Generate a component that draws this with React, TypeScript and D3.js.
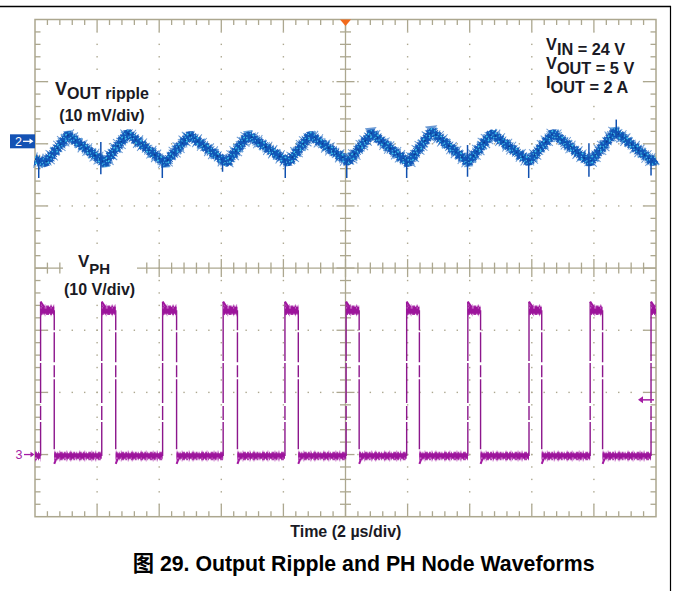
import React from "react";
import * as d3 from "d3";

const WIDTH = 673;
const HEIGHT = 591;

// Scope screen: 10 horizontal divisions of 2 µs, 8 vertical divisions
const timePerDiv = 2; // µs/div
const hDivs = 10;
const vDivs = 8;

// Channel 2 – output ripple (10 mV/div)
const ch2PerDiv = 10; // mV/div
const ch2Position = 2.04; // divisions above centre
const rippleTimeUs = [0, 0.35, 1.07, 2.25, 2.98, 4.19, 4.98, 6.17, 6.87, 8.16, 8.86, 10.09, 10.84, 12.02, 12.78, 13.95, 14.71, 15.91, 16.69, 17.87, 18.68, 19.91, 20];
const rippleMv = [-3.0, -3.4, 1.0, -3.5, 1.3, -3.5, 1.0, -3.5, 1.0, -3.4, 1.0, -3.3, 1.3, -3.5, 1.6, -3.4, 1.3, -3.3, 1.3, -3.4, 1.6, -3.3, -2.9];
// switching spikes riding on the ripple
const spikeTimeUs = [0.12, 2.12, 4.1, 6.04, 8.06, 10.04, 11.97, 13.93, 15.9, 17.84, 19.84, 18.72];
const spikeLowMv = [-5.9, -5.3, -5.9, -4.9, -5.9, -5.9, -5.9, -5.7, -5.9, -5.7, -5.5, 0.5];
const spikeHighMv = [-2.5, -0.1, -2.8, -2.8, -2.8, -2.8, -2.5, -0.6, -2.8, -0.3, -2.8, 3.5];

// Channel 3 – PH switch node (10 V/div)
const ch3PerDiv = 10; // V/div
const ch3Position = -3; // divisions below centre
const phRiseUs = [0.18, 2.15, 4.11, 6.06, 8.05, 10.02, 11.97, 13.94, 15.91, 17.88, 19.84];
const phFallUs = [0.62, 2.6, 4.56, 6.52, 8.48, 10.44, 12.38, 14.35, 16.32, 18.28];
const phHighV = 23.2;
const phPeakV = 24.6;
const phLowV = -0.25;
const phDipV = -1.5;
const triggerV = 8.8;

// Annotation text
const conditionSymbols = ["V", "V", "I"];
const conditionRest = ["IN = 24 V", "OUT = 5 V", "OUT = 2 A"];
const axisTitle = "Time (2 µs/div)";
const caption = "图 29. Output Ripple and PH Node Waveforms";

const GRID = "#aca78f";
const FONT = "'Liberation Sans', Arial, Helvetica, sans-serif";

const x = d3.scaleLinear().domain([0, hDivs * timePerDiv]).range([35, 656]);
const yDiv = d3.scaleLinear().domain([-vDivs / 2, vDivs / 2]).range([516.7, 19.5]);
const y2 = (mv: number) => yDiv(ch2Position + mv / ch2PerDiv);
const y3 = (v: number) => yDiv(ch3Position + v / ch3PerDiv);

function Graticule() {
  const left = x(0), right = x(hDivs * timePerDiv);
  const top = yDiv(vDivs / 2), bottom = yDiv(-vDivs / 2);
  const cx = x((hDivs * timePerDiv) / 2), cy = yDiv(0);
  const minorT = d3.range(0, hDivs * 5 + 1).map((i) => (i * timePerDiv) / 5);
  const minorD = d3.range(0, vDivs * 5 + 1).map((i) => -vDivs / 2 + i * 0.2);
  const items: React.ReactNode[] = [];

  // dotted major lines
  d3.range(1, hDivs).forEach((k) => {
    if (k === hDivs / 2) return;
    const gx = x(k * timePerDiv);
    minorD.forEach((d, j) => {
      if (j === 0 || j === minorD.length - 1) return;
      items.push(<rect key={`dv${k}-${j}`} x={gx - 0.7} y={yDiv(d) - 0.7} width={1.4} height={1.4} fill={GRID} stroke="none" />);
    });
  });
  d3.range(1, vDivs).forEach((k) => {
    if (k === vDivs / 2) return;
    const gy = yDiv(-vDivs / 2 + k);
    minorT.forEach((t, j) => {
      if (j === 0 || j === minorT.length - 1) return;
      items.push(<rect key={`dh${k}-${j}`} x={x(t) - 0.7} y={gy - 0.7} width={1.4} height={1.4} fill={GRID} stroke="none" />);
    });
  });

  // ticks along the border and the centre cross
  minorT.forEach((t, j) => {
    if (j === 0 || j === minorT.length - 1) return;
    const major = j % 5 === 0;
    const len = major ? 12 : 5.5;
    const c = major ? 9 : 5.5;
    const gx = x(t);
    items.push(<line key={`tt${j}`} x1={gx} x2={gx} y1={top} y2={top + len} />);
    items.push(<line key={`tb${j}`} x1={gx} x2={gx} y1={bottom} y2={bottom - len} />);
    items.push(<line key={`tc${j}`} x1={gx} x2={gx} y1={cy - c} y2={cy + c} />);
  });
  minorD.forEach((d, j) => {
    if (j === 0 || j === minorD.length - 1) return;
    const major = j % 5 === 0;
    const len = major ? 12 : 5.5;
    const c = major ? 9 : 5.5;
    const gy = yDiv(d);
    items.push(<line key={`tl${j}`} x1={left} x2={left + len} y1={gy} y2={gy} />);
    items.push(<line key={`tr${j}`} x1={right} x2={right - len} y1={gy} y2={gy} />);
    items.push(<line key={`tv${j}`} x1={cx - c} x2={cx + c} y1={gy} y2={gy} />);
  });

  return (
    <g stroke={GRID} strokeWidth={1.3}>
      <rect x={left} y={top} width={right - left} height={bottom - top} fill="none" strokeWidth={1.5} />
      <line x1={cx} x2={cx} y1={top} y2={bottom} />
      <line x1={left} x2={right} y1={cy} y2={cy} />
      {items}
    </g>
  );
}

function RippleTrace() {
  const idx = d3.range(rippleTimeUs.length);
  const path = d3
    .line<number>()
    .x((i) => x(rippleTimeUs[i]))
    .y((i) => y2(rippleMv[i]))(idx) as string;
  return (
    <g fill="none" strokeLinejoin="bevel">
      {/* persistence haze and sample scatter around the trace */}
      <path d={path} stroke="#1d64bd" strokeWidth={16} strokeDasharray="1 5 1 8 1 4 1 11" opacity={0.65} />
      <path d={path} stroke="#2a7fcf" strokeWidth={12.5} strokeDasharray="1 2 1 3.5 2 2.5 1 4" opacity={0.7} />
      <path d={path} stroke="#1359b9" strokeWidth={10} strokeDasharray="2 1 1 1.5 3 1" opacity={0.9} />
      <path d={path} stroke="#1157b8" strokeWidth={7} strokeLinejoin="round" />
      <path d={path} stroke="#0a3c8e" strokeWidth={1.6} strokeDasharray="1 3 1 6 2 4" />
      <path d={path} transform="translate(0,-3)" stroke="#3fc4e9" strokeWidth={1.5} strokeDasharray="1 2 2 3 1 4" />
      <path d={path} transform="translate(0,3)" stroke="#3fc4e9" strokeWidth={1.5} strokeDasharray="2 3 1 2 1 5" />
      <path d={path} transform="translate(0,0.8)" stroke="#5fd0ef" strokeWidth={1.2} strokeDasharray="1 6 1 3 1 9" />
      {spikeTimeUs.map((t, i) => (
        <line key={i} x1={x(t)} x2={x(t)} y1={y2(spikeLowMv[i])} y2={y2(spikeHighMv[i])} stroke="#1050b0" strokeWidth={1.5} />
      ))}
    </g>
  );
}

function PhTrace() {
  const end = hDivs * timePerDiv;
  const highSegs = phRiseUs.map((r, i) => [r, i < phFallUs.length ? phFallUs[i] : end]);
  const lowSegs = [[0, phRiseUs[0]], ...phFallUs.map((f, i) => [f, i + 1 < phRiseUs.length ? phRiseUs[i + 1] : end])];
  const seg = (a: number, b: number, v: number) => `M${x(a)},${y3(v)}L${x(b)},${y3(v)}`;
  const high = highSegs.map(([a, b]) => seg(a, b, phHighV)).join("");
  const low = lowSegs.map(([a, b]) => seg(a, b, phLowV)).join("");
  return (
    <g fill="none">
      {phRiseUs.map((r, i) => (
        <g key={`r${i}`}>
          <line x1={x(r)} x2={x(r)} y1={y3(phLowV)} y2={y3(phPeakV)} stroke="#8c168c" strokeWidth={1.4} strokeDasharray="34 2 14 3 40 2 60" />
          <line x1={x(r)} x2={x(r) + 4} y1={y3(phPeakV)} y2={y3(phHighV + 0.4)} stroke="#a0169f" strokeWidth={2} />
        </g>
      ))}
      {phFallUs.map((f, i) => (
        <g key={`f${i}`}>
          <line x1={x(f)} x2={x(f)} y1={y3(phHighV)} y2={y3(phDipV)} stroke="#8c168c" strokeWidth={1.4} strokeDasharray="20 2 30 3 12 2 70" />
          <line x1={x(f)} x2={x(f) + 3} y1={y3(phDipV)} y2={y3(phLowV)} stroke="#a0169f" strokeWidth={2} />
        </g>
      ))}
      <path d={high} stroke="#b43cb4" strokeWidth={12} strokeDasharray="1 3 1 5 1 2 1 7" opacity={0.6} />
      <path d={high} stroke="#a21ca2" strokeWidth={9.5} strokeDasharray="2 1 1 1.5 3 1" opacity={0.9} />
      <path d={high} stroke="#9c149b" strokeWidth={7} />
      <path d={high} stroke="#d47ad4" strokeWidth={1.2} strokeDasharray="1 3 2 4" transform="translate(0,-2.5)" />
      <path d={low} stroke="#b43cb4" strokeWidth={11} strokeDasharray="1 4 1 6 1 3 1 8" opacity={0.6} />
      <path d={low} stroke="#a21ca2" strokeWidth={8.5} strokeDasharray="2 1 1 1.5 3 1" opacity={0.85} />
      <path d={low} stroke="#9c149b" strokeWidth={5.5} />
      <path d={low} stroke="#d47ad4" strokeWidth={1.2} strokeDasharray="2 3 1 4" transform="translate(0,2)" />
    </g>
  );
}

export default function App() {
  const cy2 = y2(0);
  const cy3 = y3(0);
  const trigY = y3(triggerV);
  const xc = x((hDivs * timePerDiv) / 2);
  const top = yDiv(vDivs / 2);
  return (
    <svg width={WIDTH} height={HEIGHT} style={{ position: "absolute", left: 0, top: 0, background: "#fff" }} fontFamily={FONT}>
      <rect width={WIDTH} height={HEIGHT} fill="#fff" />
      {/* page frame */}
      <line x1={0} x2={671} y1={6.5} y2={6.5} stroke="#000" strokeWidth={1.6} />
      <line x1={670.5} x2={670.5} y1={6} y2={HEIGHT} stroke="#000" strokeWidth={1.2} />

      <Graticule />

      {/* label backgrounds */}
      <rect x={52} y={80} width={100} height={44} fill="#fff" />
      <rect x={63} y={252} width={74} height={47} fill="#fff" />
      <rect x={543} y={37} width={96} height={59} fill="#fff" />

      <RippleTrace />
      <PhTrace />

      {/* trigger position */}
      <path d={`M${xc - 5.5},${top}L${xc + 5.5},${top}L${xc},${top + 6.5}Z`} fill="#f26a1b" />

      {/* channel 2 marker */}
      <rect x={10} y={cy2 - 7} width={25} height={14} fill="#1452b4" />
      <text x={15} y={cy2 + 4.5} fill="#fff" fontSize={12.5}>2</text>
      <line x1={23} x2={32} y1={cy2} y2={cy2} stroke="#fff" strokeWidth={1.3} />
      <path d={`M${33.5},${cy2}L${29.5},${cy2 - 2.8}L${29.5},${cy2 + 2.8}Z`} fill="#fff" />

      {/* channel 3 marker */}
      <text x={15.5} y={cy3 + 4.5} fill="#a41ca4" fontSize={12.5}>3</text>
      <line x1={24} x2={33} y1={cy3} y2={cy3} stroke="#a41ca4" strokeWidth={1.3} />
      <path d={`M${34.5},${cy3}L${30.5},${cy3 - 2.8}L${30.5},${cy3 + 2.8}Z`} fill="#a41ca4" />

      {/* trigger level */}
      <line x1={640} x2={654} y1={trigY} y2={trigY} stroke="#a41ca4" strokeWidth={1.5} />
      <path d={`M${638},${trigY}L${643},${trigY - 3.5}L${643},${trigY + 3.5}Z`} fill="#a41ca4" />

      {/* trace labels */}
      <g fill="#1a1a24" fontWeight="bold">
        <text x={55} y={95} fontSize={18}>
          V<tspan fontSize={16} dy={4}>OUT ripple</tspan>
        </text>
        <text x={59.3} y={120.5} fontSize={16}>(10 mV/div)</text>
        <text x={78} y={266.5} fontSize={17}>
          V<tspan fontSize={15} dy={7.5}>PH</tspan>
        </text>
        <text x={64} y={295} fontSize={16}>(10 V/div)</text>
        {conditionSymbols.map((s, i) => (
          <text key={i} x={546} y={50 + i * 19} fontSize={16.3}>
            {s}
            <tspan dy={5}>{conditionRest[i]}</tspan>
          </text>
        ))}
        <text x={345.8} y={536.5} fontSize={16} textAnchor="middle">{axisTitle}</text>
      </g>

      <text x={132.7} y={570.5} fontSize={21.3} fontWeight="bold" fill="#000" fontFamily={`${FONT}, 'Noto Sans CJK SC'`}>
        {caption}
      </text>
    </svg>
  );
}
